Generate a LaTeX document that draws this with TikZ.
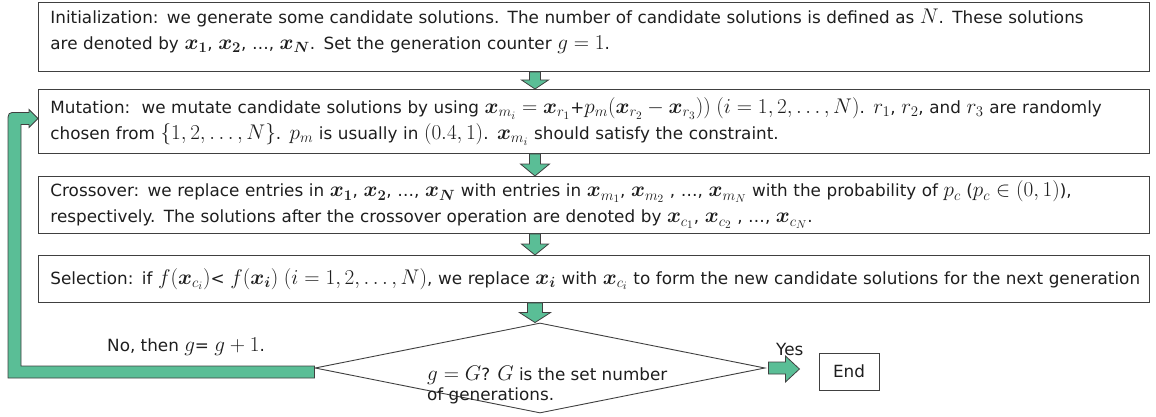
\RequirePackage{fix-cm}
\documentclass[tikz,border=0pt]{standalone}
\usepackage{amsmath}
\usepackage{bm}
\usepackage{fontspec}
\setmainfont{DejaVu Sans}
\DeclareMathSizes{16.8}{21.2}{14.8}{11.3}
\usetikzlibrary{calc,shapes.geometric}

\definecolor{flowgreen}{RGB}{90,190,150}
\definecolor{edgegray}{RGB}{64,64,64}
\definecolor{textgray}{RGB}{30,30,30}

\tikzset{
  stepbox/.style={draw=edgegray, line width=0.9pt, anchor=north west,
    minimum width=1111pt, text width=1087pt, inner xsep=12pt, inner ysep=4pt,
    align=left},
  blockarrow/.style={fill=flowgreen, draw=edgegray, line width=0.8pt, line join=miter},
}

% block arrow pointing down from #1 to #2 along the column ax
% #3 shaft half width, #4 head half width, #5 head length
\newcommand\blockdown[5]{%
  \draw[blockarrow]
    ($(#1.south -| ax)+(-#3,0)$) -- ($(#1.south -| ax)+(#3,0)$)
    -- ($(#2.north -| ax)+(#3,-#5)$) -- ($(#2.north -| ax)+(#4,-#5)$)
    -- (#2.north -| ax)
    -- ($(#2.north -| ax)+(-#4,-#5)$) -- ($(#2.north -| ax)+(-#3,-#5)$) -- cycle;}

\begin{document}
\begin{tikzpicture}[x=1pt,y=-1pt,font=\fontsize{16.8}{26}\selectfont,text=textgray]
\useasboundingbox (0,0) rectangle (1156,417);
\coordinate (ax) at (535,0);

% process steps
\node[stepbox, minimum height=69pt] (init) at (38,2)
  {\mbox{Initialization: we generate some candidate solutions. The number of candidate solutions is defined as $N$. These solutions}\\
   \mbox{are denoted by $\bm{x_1}$, $\bm{x_2}$, …, $\bm{x_N}$. Set the generation counter $g=1$.}\par\vspace*{12pt}};

\node[stepbox, minimum height=64pt] (mut) at (38,89)
  {\mbox{Mutation:\ \ we mutate candidate solutions by using $\bm{x}_{m_i}=\bm{x}_{r_1}$+$p_m(\bm{x}_{r_2}-\bm{x}_{r_3}))$ $(i=1,2,\ldots,N)$. $r_1$, $r_2$, and $r_3$ are randomly}\\
   \mbox{chosen from $\{1,2,\ldots,N\}$. $p_m$ is usually in $(0.4,1)$. $\bm{x}_{m_i}$ should satisfy the constraint.}};

\node[stepbox, minimum height=57pt] (cross) at (38,176)
  {\mbox{Crossover: we replace entries in $\bm{x_1}$, $\bm{x_2}$, …, $\bm{x_N}$ with entries in $\bm{x}_{m_1}$, $\bm{x}_{m_2}$ , …, $\bm{x}_{m_N}$ with the probability of $p_c$ ($p_c\in(0,1)$),}\\
   \mbox{respectively. The solutions after the crossover operation are denoted by $\bm{x}_{c_1}$, $\bm{x}_{c_2}$ , …, $\bm{x}_{c_N}$.}};

\node[stepbox, minimum height=47pt] (sel) at (38,255)
  {\mbox{Selection: if $f(\bm{x}_{c_i})$< $f(\bm{x_i})$ $(i=1,2,\ldots,N)$, we replace $\bm{x_i}$ with $\bm{x}_{c_i}$ to form the new candidate solutions for the next generation}};

% termination test
\node[diamond, draw=edgegray, line width=0.9pt, minimum width=450pt, minimum height=90pt,
      inner sep=0pt] (check) at (540,368) {};
\node[anchor=north west, align=left, inner sep=0pt, font=\fontsize{16.8}{20}\selectfont]
  (checktext) at (427,366) {$g=G$? $G$ is the set number\\of generations.};

\node[draw=edgegray, line width=0.9pt, minimum width=60pt, minimum height=37pt,
      inner sep=0pt] (endbox) at (849,371.5) {End};

\node[anchor=base west, inner sep=0pt] (nolabel) at (107,351) {No, then $g$= $g+1$.};
\node[anchor=base west, inner sep=0pt] (yeslabel) at (776,355) {Yes};

% downward flow
\blockdown{init}{mut}{5.5}{13.5}{9}
\blockdown{mut}{cross}{5.5}{14.5}{12}
\blockdown{cross}{sel}{5.5}{13.5}{11}
\blockdown{sel}{check}{7.5}{15.5}{10}

% yes branch
\draw[blockarrow]
  ($(check.east)+(3,-6)$) -- ($(check.east)+(20,-6)$) -- ($(check.east)+(20,-12)$)
  -- ($(check.east)+(34,1)$) -- ($(check.east)+(20,14)$) -- ($(check.east)+(20,6)$)
  -- ($(check.east)+(3,6)$) -- cycle;

% no branch: return to mutation
\coordinate (lp) at ($(mut.west)+(0,-3)$);
\coordinate (lb) at ($(check.west)+(0,-2)$);
\coordinate (xo) at (8,0);
\coordinate (xi) at (21,0);
\draw[blockarrow]
  (lb) -- (lb -| xi) -- ($(lp -| xi)+(0,6)$) -- ($(lp)+(-9,6)$) -- ($(lp)+(-9,9)$)
  -- (lp) -- ($(lp)+(-9,-9)$) -- ($(lp)+(-9,-6)$) -- ($(lp -| xi)+(-4,-6)$)
  .. controls ($(lp -| xo)+(0,-6)$) .. ($(lp -| xo)+(0,4)$)
  -- ($(lb -| xo)+(0,12)$) -- ($(lb)+(0,12)$) -- cycle;
\end{tikzpicture}
\end{document}
